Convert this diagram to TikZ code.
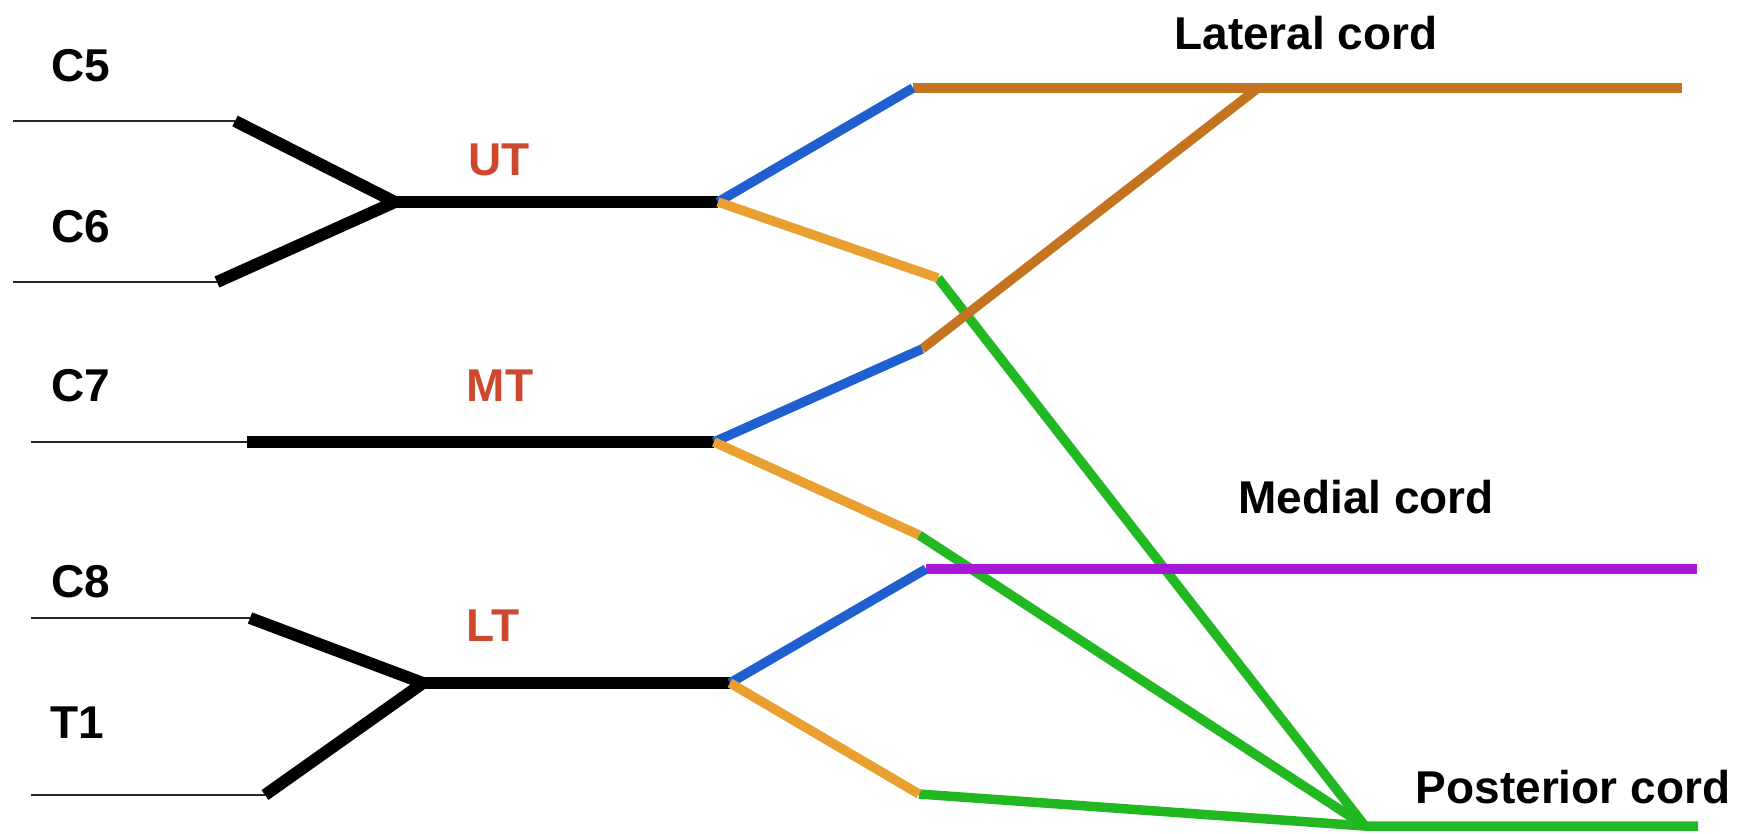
\documentclass[tikz,border=0pt]{standalone}
\usepackage{fontspec}
\setmainfont{Liberation Sans}
\definecolor{nblue}{RGB}{31,95,208}
\definecolor{norange}{RGB}{233,160,48}
\definecolor{nbrown}{RGB}{196,116,32}
\definecolor{ngreen}{RGB}{34,184,34}
\definecolor{npurple}{RGB}{168,23,216}
\definecolor{nred}{RGB}{205,72,45}
\tikzset{
  root/.style={draw=black!85, line width=2.5pt},
  trunk/.style={draw=black, line width=12pt, line join=miter},
  div/.style={line width=9.5pt},
  lbl/.style={inner sep=0pt, font=\fontsize{46}{50}\selectfont\bfseries, text=black},
  tlbl/.style={lbl, text=nred},
}
\begin{document}
\begin{tikzpicture}[x=1pt,y=-1pt]
\useasboundingbox (0,0) rectangle (1760,833);
% coordinates
\coordinate (c5a) at (13,121);  \coordinate (c5b) at (235,121);
\coordinate (c6a) at (13,282);  \coordinate (c6b) at (217,282);
\coordinate (utj) at (395,202); \coordinate (ute) at (718,202);
\coordinate (c7a) at (31,442);  \coordinate (c7b) at (247,442);
\coordinate (mte) at (714,442);
\coordinate (c8a) at (31,618);  \coordinate (c8b) at (250,618);
\coordinate (t1a) at (31,795);  \coordinate (t1b) at (265,795);
\coordinate (ltj) at (423,683); \coordinate (lte) at (730,683);
% divisions
\coordinate (utA) at (913,88);  \coordinate (utP) at (938,278);
\coordinate (mtA) at (922,349); \coordinate (mtP) at (919,535);
\coordinate (ltA) at (926,569); \coordinate (ltP) at (919,794);
\coordinate (latS) at (913,88); \coordinate (latJ) at (1258,88); \coordinate (latE) at (1682,88);
\coordinate (medE) at (1697,569);
\coordinate (posJ) at (1365,826); \coordinate (posE) at (1698,826);

% roots
\draw[root] (c5a) -- (c5b);
\draw[root] (c6a) -- (c6b);
\draw[root] (c7a) -- (c7b);
\draw[root] (c8a) -- (c8b);
\draw[root] (t1a) -- (t1b);
% trunks
\draw[trunk] (c5b) -- (utj) -- (c6b);
\draw[trunk] (utj) -- (ute);
\draw[trunk] (c7b) -- (mte);
\draw[trunk] (c8b) -- (ltj) -- (t1b);
\draw[trunk] (ltj) -- (lte);

% posterior (green)
\draw[div, ngreen] (utP) -- (posJ);
\draw[div, ngreen] (mtP) -- (posJ);
\draw[div, ngreen] (ltP) -- (posJ) -- (posE);
% lateral (brown)
\draw[div, nbrown] (latS) -- (latE);
\draw[div, nbrown] (mtA) -- (latJ);
% medial (purple)
\draw[div, npurple] (ltA) -- (medE);
% anterior divisions (blue)
\draw[div, nblue] (ute) -- (utA);
\draw[div, nblue] (mte) -- (mtA);
\draw[div, nblue] (lte) -- (ltA);
% posterior divisions (orange)
\draw[div, norange] (ute) -- (utP);
\draw[div, norange] (mte) -- (mtP);
\draw[div, norange] (lte) -- (ltP);

% labels
\node[lbl] (lC5) at (81,66) {C5};
\node[lbl] (lC6) at (81,227) {C6};
\node[lbl] (lC7) at (81,386) {C7};
\node[lbl] (lC8) at (81,582) {C8};
\node[lbl] (lT1) at (77,723) {T1};
\node[tlbl] (lUT) at (499,160) {UT};
\node[tlbl] (lMT) at (500,386) {MT};
\node[tlbl] (lLT) at (493,626) {LT};
\node[lbl] (lLat) at (1306,33) {Lateral cord};
\node[lbl] (lMed) at (1366,497) {Medial cord};
\node[lbl] (lPos) at (1573,787) {Posterior cord};
\end{tikzpicture}
\end{document}
